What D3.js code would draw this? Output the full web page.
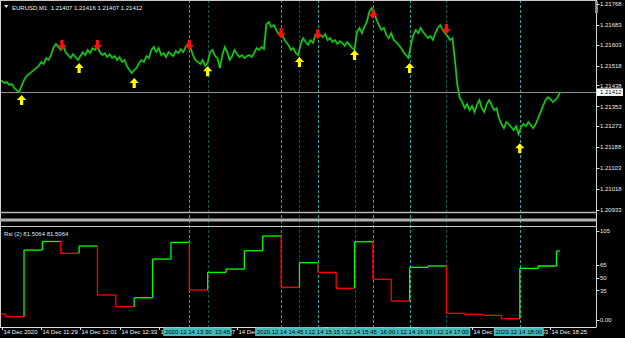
<!DOCTYPE html>
<html>
<head>
<meta charset="utf-8">
<script src="https://d3js.org/d3.v7.min.js"></script>
<style>
  body { margin: 0; background: #000; }
  svg { display: block; }
  text { font-family: "Liberation Sans", Arial, sans-serif; }
</style>
</head>
<body>
<div id="chart"></div>
<script>
var svgWidth = 625;
var svgHeight = 338;

// price series (M1 closes, read every 2 minutes)
var startTime = "10:55";
var stepMinutes = 2;
var closes = [
  1.21460, 1.21456, 1.21448, 1.21452, 1.21440, 1.21444, 1.21428, 1.21419, 1.21411,
  1.21436, 1.21460, 1.21476, 1.21484, 1.21492, 1.21501, 1.21509, 1.21517,
  1.21533, 1.21525, 1.21549, 1.21541, 1.21561, 1.21590, 1.21606, 1.21594,
  1.21582, 1.21598, 1.21573, 1.21561, 1.21549, 1.21565, 1.21553, 1.21541,
  1.21557, 1.21573, 1.21561, 1.21582, 1.21569, 1.21590, 1.21582, 1.21598,
  1.21573, 1.21561, 1.21569, 1.21553, 1.21565, 1.21549, 1.21557, 1.21541, 1.21553, 1.21533, 1.21541, 1.21517, 1.21501, 1.21488,
  1.21501, 1.21509, 1.21529, 1.21541, 1.21533, 1.21557, 1.21549, 1.21582, 1.21594,
  1.21573, 1.21590, 1.21561, 1.21569, 1.21553, 1.21573, 1.21565, 1.21557, 1.21578, 1.21569, 1.21586, 1.21573, 1.21594, 1.21606,
  1.21590, 1.21561, 1.21541, 1.21533, 1.21525, 1.21541, 1.21517, 1.21529,
  1.21573, 1.21582, 1.21557, 1.21549, 1.21509, 1.21561, 1.21594, 1.21573, 1.21541, 1.21557, 1.21582, 1.21565, 1.21553, 1.21561,
  1.21549, 1.21557, 1.21561, 1.21553, 1.21569, 1.21590, 1.21582, 1.21594, 1.21586, 1.21687,
  1.21695, 1.21675, 1.21683, 1.21663, 1.21646, 1.21655,
  1.21630, 1.21614, 1.21602, 1.21582, 1.21590, 1.21569, 1.21561,
  1.21606, 1.21630, 1.21614, 1.21602, 1.21622, 1.21610, 1.21642, 1.21650,
  1.21642, 1.21634, 1.21646, 1.21622, 1.21630, 1.21614, 1.21622, 1.21606, 1.21618, 1.21610, 1.21598, 1.21614, 1.21602, 1.21590, 1.21582,
  1.21655, 1.21671, 1.21650, 1.21675, 1.21695, 1.21736, 1.21752,
  1.21736, 1.21703, 1.21683, 1.21663, 1.21671, 1.21642, 1.21630, 1.21650, 1.21622, 1.21614, 1.21602, 1.21590, 1.21573, 1.21561, 1.21549,
  1.21602, 1.21642, 1.21663, 1.21650, 1.21671, 1.21655, 1.21642, 1.21630, 1.21638, 1.21622, 1.21650, 1.21671, 1.21683, 1.21663, 1.21650,
  1.21638, 1.21622, 1.21630, 1.21541, 1.21440, 1.21387,
  1.21371, 1.21346, 1.21363, 1.21338, 1.21355, 1.21330, 1.21359, 1.21379, 1.21346, 1.21330, 1.21363, 1.21379, 1.21359, 1.21338,
  1.21346, 1.21306, 1.21282, 1.21265, 1.21290, 1.21282, 1.21269, 1.21257, 1.21274, 1.21241,
  1.21269, 1.21282, 1.21274, 1.21290, 1.21278, 1.21265, 1.21282, 1.21306, 1.21330, 1.21355, 1.21379, 1.21391, 1.21383, 1.21371,
  1.21379, 1.21391, 1.21412
];
var headerText = "EURUSD,M1  1.21407 1.21416 1.21407 1.21412";
var lastPrice = 1.21412;
var priceTicks = [1.21768, 1.21683, 1.21603, 1.21518, 1.21438, 1.21353, 1.21273, 1.21188, 1.21103, 1.21018, 1.20933];

// signal arrows
var sellTimes = ["11:46", "12:15", "13:30", "14:45", "15:15", "16:00", "17:00"];
var sellPrices = [1.21602, 1.21602, 1.21602, 1.21650, 1.21646, 1.21727, 1.21667];
var buyTimes = ["11:13", "12:00", "12:45", "13:45", "15:00", "15:45", "16:30", "18:00"];
var buyPrices = [1.21379, 1.21509, 1.21448, 1.21496, 1.21533, 1.21561, 1.21509, 1.21184];

// vertical time lines
var vlineTimes = ["13:30", "13:45", "14:45", "15:00", "15:15", "15:45", "16:00", "16:30", "17:00", "18:00"];
var vlineBright = [true, false, true, false, true, false, true, true, false, true];
// order their bottom labels are painted in (last one ends up on top)
var labelPaintOrder = ["15:00", "18:00", "17:00", "16:30", "16:00", "15:45", "15:15", "14:45", "13:45", "13:30"];

// RSI (M15 values shown as steps)
var rsiStart = "10:45";
var rsiStepMinutes = 15;
var rsiValues = [7.1, 3.9, 82.5, 92.6, 78.7, 87.3, 29.5, 15.7, 26.3, 71.9, 91.6, 35.4, 56.2, 60.1, 81.7, 99.1,
  38.6, 67.6, 56.2, 37.4, 92.3, 48.0, 22.4, 62.1, 63.7, 7.9, 6.7, 5.5, 1.5, 61.0, 63.7, 81.51];
var rsiTicks = [105, 65, 50, 35, 0];
var rsiTitle = "Rsi (2) 81.5064 81.5064";
var dataEnd = "18:33";

// bottom axis labels
var timeTicks = ["10:57", "11:29", "12:01", "12:33", "13:05", "13:37", "14:09", "14:41",
  "15:13", "15:45", "16:17", "16:49", "17:21", "17:53", "18:25"];

function parseTime(s) {
  var p = s.split(":");
  return new Date(2020, 11, 14, +p[0], +p[1]);
}

var plotRight = 596.5;
var axisY = 327;

var svg = d3.select("#chart")
  .append("svg")
  .attr("width", svgWidth)
  .attr("height", svgHeight)
  .style("background", "#000");

var xScale = d3.scaleTime()
  .domain([parseTime("10:57"), parseTime("18:25")])
  .range([2, 550.4]);

var yPrice = d3.scaleLinear()
  .domain([1.20933, 1.21768])
  .range([210.2, 4]);

var yRsi = d3.scaleLinear()
  .domain([0, 105])
  .range([320, 231]);

svg.append("clipPath").attr("id", "plotclip")
  .append("rect").attr("x", 0).attr("y", 0).attr("width", plotRight).attr("height", axisY);

// vertical dashed lines
svg.append("g").attr("clip-path", "url(#plotclip)")
  .selectAll("line")
  .data(vlineTimes)
  .enter()
  .append("line")
  .attr("x1", d => Math.round(xScale(parseTime(d))) + 0.5)
  .attr("x2", d => Math.round(xScale(parseTime(d))) + 0.5)
  .attr("y1", 0)
  .attr("y2", axisY)
  .attr("stroke", (d, i) => vlineBright[i] ? "#27a4a4" : "#0f5552")
  .attr("stroke-width", 1)
  .attr("stroke-dasharray", "3,2");

// current price line
svg.append("line")
  .attr("x1", 0).attr("x2", plotRight)
  .attr("y1", Math.round(yPrice(lastPrice)) + 0.5)
  .attr("y2", Math.round(yPrice(lastPrice)) + 0.5)
  .attr("stroke", "#909090");

// price line
var priceData = closes.map((v, i) => ({ t: d3.timeMinute.offset(parseTime(startTime), i * stepMinutes), v: v }));
var line = d3.line()
  .x(d => xScale(d.t))
  .y(d => yPrice(d.v));

svg.append("path")
  .datum(priceData)
  .attr("clip-path", "url(#plotclip)")
  .attr("fill", "none")
  .attr("stroke", "#009400")
  .attr("stroke-width", 2)
  .attr("d", line);
svg.append("path")
  .datum(priceData)
  .attr("clip-path", "url(#plotclip)")
  .attr("fill", "none")
  .attr("stroke", "#30e030")
  .attr("stroke-width", 0.8)
  .attr("d", line);

// arrows
function downArrow(cx, cy) {
  return `M${cx - 1.6},${cy - 5} L${cx + 1.6},${cy - 5} L${cx + 1.6},${cy} L${cx + 4.6},${cy} L${cx},${cy + 5} L${cx - 4.6},${cy} L${cx - 1.6},${cy} Z`;
}
function upArrow(cx, cy) {
  return `M${cx - 1.6},${cy + 5} L${cx + 1.6},${cy + 5} L${cx + 1.6},${cy} L${cx + 4.6},${cy} L${cx},${cy - 5} L${cx - 4.6},${cy} L${cx - 1.6},${cy} Z`;
}

svg.append("g").selectAll("path")
  .data(sellTimes)
  .enter()
  .append("path")
  .attr("d", (d, i) => downArrow(xScale(parseTime(d)), yPrice(sellPrices[i])))
  .attr("fill", "#ff1010");

svg.append("g").selectAll("path")
  .data(buyTimes)
  .enter()
  .append("path")
  .attr("d", (d, i) => upArrow(xScale(parseTime(d)), yPrice(buyPrices[i])))
  .attr("fill", "#ffff00");

// RSI steps
var rsiGroup = svg.append("g").attr("clip-path", "url(#plotclip)");
rsiValues.forEach(function(v, i) {
  var t0 = d3.timeMinute.offset(parseTime(rsiStart), i * rsiStepMinutes);
  var t1 = i < rsiValues.length - 1 ? d3.timeMinute.offset(t0, rsiStepMinutes) : parseTime(dataEnd);
  var up = i > 0 && v > rsiValues[i - 1];
  var col = up ? "#00ff00" : "#ff0000";
  var x0 = Math.max(0, xScale(t0));
  var x1 = xScale(t1);
  if (i > 0) {
    rsiGroup.append("line")
      .attr("x1", x0).attr("x2", x0)
      .attr("y1", yRsi(rsiValues[i - 1])).attr("y2", yRsi(v))
      .attr("stroke", col).attr("stroke-width", 1.3);
  }
  rsiGroup.append("line")
    .attr("x1", x0).attr("x2", x1)
    .attr("y1", yRsi(v)).attr("y2", yRsi(v))
    .attr("stroke", col).attr("stroke-width", 1.3);
});

// frames and separator
svg.append("line").attr("x1", 0).attr("x2", plotRight).attr("y1", 0.5).attr("y2", 0.5).attr("stroke", "#c8c8c8");
svg.append("line").attr("x1", 0.5).attr("x2", 0.5).attr("y1", 0).attr("y2", axisY).attr("stroke", "#d0d0d0");
svg.append("line").attr("x1", plotRight).attr("x2", plotRight).attr("y1", 0).attr("y2", axisY).attr("stroke", "#d8d8d8");
svg.append("rect").attr("x", 595).attr("y", 1).attr("width", 3).attr("height", 12).attr("fill", "#8a8a8a");
svg.append("line").attr("x1", 0).attr("x2", plotRight).attr("y1", 212.5).attr("y2", 212.5).attr("stroke", "#b8b8b8").attr("stroke-width", 1.5);
svg.append("rect").attr("x", 0).attr("y", 218.5).attr("width", plotRight).attr("height", 3).attr("fill", "#b0b0b0");
svg.append("line").attr("x1", 0).attr("x2", plotRight).attr("y1", 226.5).attr("y2", 226.5).attr("stroke", "#c8c8c8");
svg.append("line").attr("x1", 0).attr("x2", plotRight).attr("y1", axisY + 0.5).attr("y2", axisY + 0.5).attr("stroke", "#e0e0e0");

// price axis
var priceAxis = svg.append("g");
priceTicks.forEach(function(p) {
  var y = yPrice(p);
  priceAxis.append("line").attr("x1", plotRight).attr("x2", plotRight + 3)
    .attr("y1", Math.round(y) + 0.5).attr("y2", Math.round(y) + 0.5).attr("stroke", "#d8d8d8");
  priceAxis.append("text").attr("x", 600).attr("y", y + 2.2)
    .attr("font-size", 6).attr("fill", "#e8e8e8").text(p.toFixed(5));
});
var lp = yPrice(lastPrice);
priceAxis.append("rect").attr("x", plotRight + 0.5).attr("y", lp - 3.5).attr("width", 26).attr("height", 7.5).attr("fill", "#ffffff");
priceAxis.append("text").attr("x", 600).attr("y", lp + 2.2)
  .attr("font-size", 6).attr("fill", "#000").text(lastPrice.toFixed(5));

// RSI axis
rsiTicks.forEach(function(v) {
  var y = yRsi(v);
  svg.append("line").attr("x1", plotRight).attr("x2", plotRight + 3)
    .attr("y1", Math.round(y) + 0.5).attr("y2", Math.round(y) + 0.5).attr("stroke", "#d8d8d8");
  svg.append("text").attr("x", 600).attr("y", y + 2.2)
    .attr("font-size", 6).attr("fill", "#e8e8e8").text(v === 0 ? "0.00" : v);
});

// titles
svg.append("path").attr("d", "M4,5 L8.5,5 L6.25,8 Z").attr("fill", "#e0e0e0");
svg.append("text").attr("x", 12).attr("y", 9.5).attr("font-size", 6).attr("fill", "#f0f0f0")
  .attr("xml:space", "preserve").style("white-space", "pre").text(headerText);
svg.append("text").attr("x", 4).attr("y", 235.5).attr("font-size", 6).attr("fill", "#dfe8f5").text(rsiTitle);

// time axis labels
var timeAxis = svg.append("g");
timeTicks.forEach(function(s, i) {
  var x = Math.round(xScale(parseTime(s))) + 0.5;
  timeAxis.append("line").attr("x1", x).attr("x2", x).attr("y1", axisY).attr("y2", axisY + 3).attr("stroke", "#e0e0e0");
  timeAxis.append("text").attr("x", x + 1).attr("y", 333.5).attr("font-size", 6).attr("fill", "#f0f0f0")
    .text(i === 0 ? "14 Dec 2020" : "14 Dec " + s);
});

// labels of the vertical lines, boxes cover each other like in the terminal
var boxes = svg.append("g");
labelPaintOrder.forEach(function(s) {
  var x = xScale(parseTime(s));
  var label = "2020.12.14 " + s;
  boxes.append("rect").attr("x", x - 26).attr("y", axisY + 0.5).attr("width", 50).attr("height", 8.5).attr("fill", "#45bcbc");
  boxes.append("text").attr("x", x - 1).attr("y", 333.8).attr("text-anchor", "middle")
    .attr("font-size", 6).attr("fill", "#000").text(label);
});
</script>
</body>
</html>
